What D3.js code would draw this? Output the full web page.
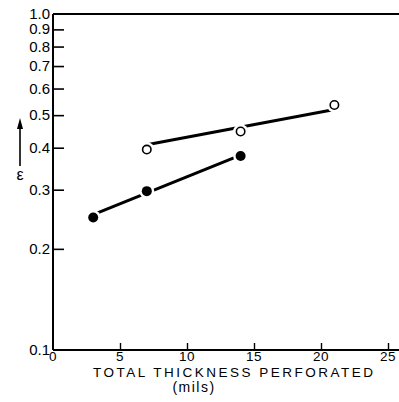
<!DOCTYPE html>
<html>
<head>
<meta charset="utf-8">
<script src="https://cdn.jsdelivr.net/npm/d3@7"></script>
<style>
  body { margin: 0; background: #fff; }
  text { font-family: "Liberation Sans", Arial, sans-serif; fill: #000; }
</style>
</head>
<body>
<script>
// data
var xTicks = [0, 5, 10, 15, 20, 25];
var yTicks = [0.1, 0.2, 0.3, 0.4, 0.5, 0.6, 0.7, 0.8, 0.9, 1.0];
var yTickLabels = ["0.1", "0.2", "0.3", "0.4", "0.5", "0.6", "0.7", "0.8", "0.9", "1.0"];

// open circles
var openX = [7, 14, 21];
var openY = [0.395, 0.447, 0.536];
// filled circles
var filledX = [3, 7, 14];
var filledY = [0.248, 0.297, 0.378];

// drawn trend lines (end points)
var openLineX = [7, 21];
var openLineY = [0.408, 0.52];
var filledLineX = [3, 14];
var filledLineY = [0.253, 0.38];

var width = 399, height = 402;

var svg = d3.select('body')
    .append('svg')
    .attr('width', width)
    .attr('height', height);

var x = d3.scaleLinear().domain([0, 25]).range([53, 388]);
var y = d3.scaleLog().domain([0.1, 1.0]).range([350, 14]);

var xEnd = 399;

// frame: left, bottom, top
svg.append('line')
    .attr('x1', x(0)).attr('x2', x(0))
    .attr('y1', y(1.0)).attr('y2', y(0.1))
    .attr('stroke', '#000').attr('stroke-width', 2);
svg.append('line')
    .attr('x1', x(0)).attr('x2', xEnd)
    .attr('y1', y(0.1)).attr('y2', y(0.1))
    .attr('stroke', '#000').attr('stroke-width', 2);
svg.append('line')
    .attr('x1', x(0)).attr('x2', xEnd)
    .attr('y1', y(1.0)).attr('y2', y(1.0))
    .attr('stroke', '#000').attr('stroke-width', 2);

// y axis (ticks inward)
var yAxis = d3.axisRight(y)
    .tickValues(yTicks.slice(1, 9))
    .tickSize(11)
    .tickFormat('');
var gy = svg.append('g')
    .attr('transform', 'translate(' + x(0) + ',0)')
    .call(yAxis);
gy.select('.domain').remove();
gy.selectAll('.tick line').attr('stroke', '#000').attr('stroke-width', 1.6);

svg.selectAll('.ylab')
    .data(yTicks)
    .enter()
    .append('text')
    .attr('class', 'ylab')
    .attr('x', 50)
    .attr('y', function(d){ return y(d) + 5; })
    .attr('text-anchor', 'end')
    .style('font-size', '15px')
    .text(function(d, i){ return yTickLabels[i]; });

// x axis (ticks inward)
var xAxis = d3.axisTop(x)
    .tickValues(xTicks.slice(1))
    .tickSize(7)
    .tickFormat('');
var gx = svg.append('g')
    .attr('transform', 'translate(0,' + y(0.1) + ')')
    .call(xAxis);
gx.select('.domain').remove();
gx.selectAll('.tick line').attr('stroke', '#000').attr('stroke-width', 1.4);

svg.selectAll('.xlab')
    .data(xTicks)
    .enter()
    .append('text')
    .attr('class', 'xlab')
    .attr('x', function(d){ return x(d); })
    .attr('y', 361)
    .attr('text-anchor', 'middle')
    .style('font-size', '13.5px')
    .attr('letter-spacing', '0.5px')
    .text(function(d){ return d; });

// axis titles
svg.append('text')
    .attr('x', 233).attr('y', 377)
    .attr('text-anchor', 'middle')
    .style('font-size', '13.5px')
    .attr('textLength', 280)
    .text('TOTAL THICKNESS PERFORATED');
svg.append('text')
    .attr('x', 194).attr('y', 392)
    .attr('text-anchor', 'middle')
    .style('font-size', '14px')
    .attr('letter-spacing', '1.5px')
    .text('(mils)');

// epsilon with arrow
svg.append('line')
    .attr('x1', 20).attr('x2', 20)
    .attr('y1', 166).attr('y2', 126)
    .attr('stroke', '#000').attr('stroke-width', 1.6);
svg.append('path')
    .attr('d', 'M20,118 L17,129 L23,129 Z')
    .attr('fill', '#000');
svg.append('text')
    .attr('x', 20).attr('y', 180)
    .attr('text-anchor', 'middle')
    .style('font-size', '16px')
    .text('\u03B5');

// trend lines
var line = d3.line()
    .x(function(d){ return x(d[0]); })
    .y(function(d){ return y(d[1]); });

svg.append('path')
    .datum(d3.zip(openLineX, openLineY))
    .attr('d', line)
    .attr('fill', 'none')
    .attr('stroke', '#000')
    .attr('stroke-width', 3);
svg.append('path')
    .datum(d3.zip(filledLineX, filledLineY))
    .attr('d', line)
    .attr('fill', 'none')
    .attr('stroke', '#000')
    .attr('stroke-width', 3);

// white halos to give gaps around markers
svg.selectAll('.halo')
    .data(d3.zip(openX, openY).concat(d3.zip(filledX, filledY)))
    .enter()
    .append('circle')
    .attr('cx', function(d){ return x(d[0]); })
    .attr('cy', function(d){ return y(d[1]); })
    .attr('r', 7.5)
    .attr('fill', '#fff');

svg.selectAll('.open')
    .data(d3.zip(openX, openY))
    .enter()
    .append('circle')
    .attr('class', 'open')
    .attr('cx', function(d){ return x(d[0]); })
    .attr('cy', function(d){ return y(d[1]); })
    .attr('r', 4.2)
    .attr('fill', '#fff')
    .attr('stroke', '#000')
    .attr('stroke-width', 1.6);

svg.selectAll('.filled')
    .data(d3.zip(filledX, filledY))
    .enter()
    .append('circle')
    .attr('class', 'filled')
    .attr('cx', function(d){ return x(d[0]); })
    .attr('cy', function(d){ return y(d[1]); })
    .attr('r', 5)
    .attr('fill', '#000');
</script>
</body>
</html>
